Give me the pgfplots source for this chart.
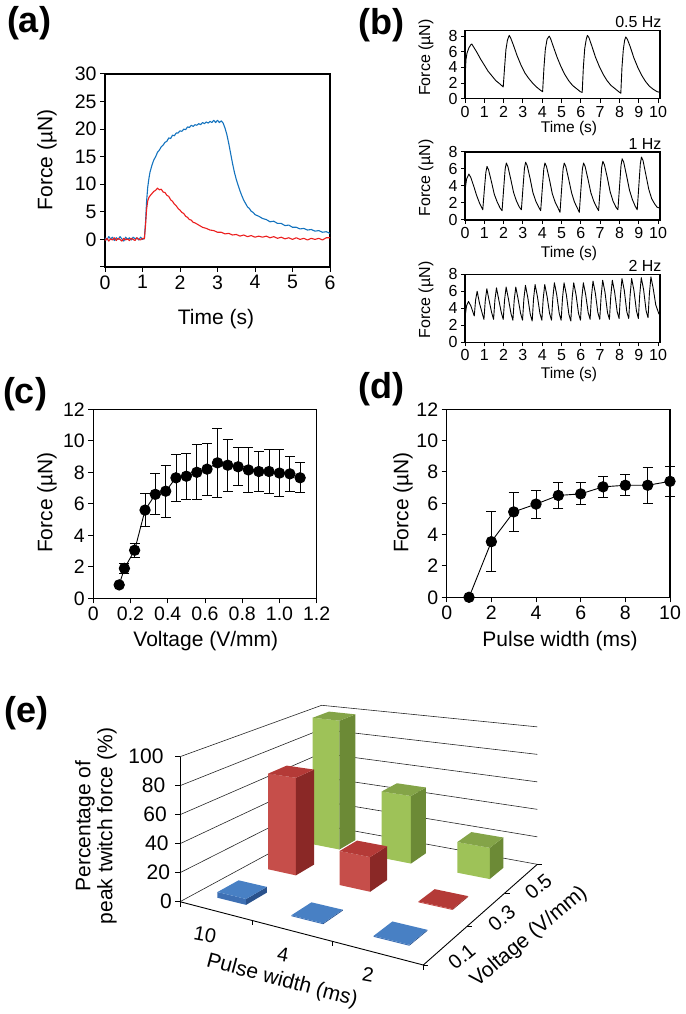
\documentclass[border=0pt]{standalone}
\usepackage{fontspec}
\setmainfont{Liberation Sans}
\usepackage{pgfplots}
\pgfplotsset{compat=1.18}
\usepackage{pgfplotstable}

\definecolor{cblue}{RGB}{20,115,190}
\definecolor{cred}{RGB}{235,30,30}
\definecolor{gF}{RGB}{158,194,88}
\definecolor{gS}{RGB}{108,138,54}
\definecolor{gT}{RGB}{132,164,72}
\definecolor{rF}{RGB}{198,78,74}
\definecolor{rS}{RGB}{138,40,38}
\definecolor{rT}{RGB}{180,58,55}
\definecolor{bF}{RGB}{62,112,180}
\definecolor{bS}{RGB}{42,82,140}
\definecolor{bT}{RGB}{72,128,196}

\newcommand\fs[1]{\fontsize{#1}{#1}\selectfont}

\pgfplotsset{
 panel/.style={scale only axis, anchor=south west, clip=false,
   axis line style={line width=1.3pt}, tick pos=left, tick align=outside,
   major tick length=5pt, every tick/.style={black,line width=1pt},
   /pgf/number format/assume math mode=true,
   tick label style={font=\fs{19.5}}},
 trace/.style={black, line width=0.9pt, mark=none, line join=round},
 gridl/.style={black!85, line width=0.6pt},
 axl/.style={black, line width=0.9pt},
 ebar/.style={black, line width=0.9pt, mark=*, mark size=5.2pt,
  error bars/.cd, y dir=both, y explicit,
  error bar style={line width=0.9pt},
  error mark options={black, rotate=90, mark size=5pt, line width=0.9pt}},
}

% data for (c) and (d)
\pgfplotstableread{
x y e
0.139 0.85 0.1
0.167 1.9 0.3
0.222 3.05 0.45
0.278 5.6 1.05
0.333 6.6 1.3
0.389 6.8 1.65
0.444 7.65 1.5
0.5 7.75 1.45
0.556 8.0 1.75
0.611 8.2 1.65
0.667 8.6 2.2
0.722 8.45 1.65
0.778 8.35 1.2
0.833 8.15 1.4
0.889 8.05 1.27
0.944 8.05 1.4
1.0 7.95 1.5
1.056 7.9 1.12
1.111 7.65 0.95
}\tabC
\pgfplotstableread{
x y e
1 0 0
2 3.55 1.9
3 5.45 1.25
4 5.95 0.9
5 6.5 0.8
6 6.6 0.7
7 7.05 0.65
8 7.15 0.68
9 7.15 1.13
10 7.4 0.95
}\tabD

% 3D helpers for (e)
\newcommand\drawbar[6]{%
 \pgfmathsetmacro\ua{#1-0.0667}\pgfmathsetmacro\ub{#1+0.0667}%
 \pgfmathsetmacro\va{#2-0.0667}\pgfmathsetmacro\vb{#2+0.0667}%
 \pgfmathsetmacro\Ax{prx(\ua,\va)}\pgfmathsetmacro\Ay{pry(\ua,\va,0)}\pgfmathsetmacro\Aty{pry(\ua,\va,#3)}%
 \pgfmathsetmacro\Bx{prx(\ub,\va)}\pgfmathsetmacro\By{pry(\ub,\va,0)}\pgfmathsetmacro\Bty{pry(\ub,\va,#3)}%
 \pgfmathsetmacro\Cx{prx(\ub,\vb)}\pgfmathsetmacro\Cy{pry(\ub,\vb,0)}\pgfmathsetmacro\Cty{pry(\ub,\vb,#3)}%
 \pgfmathsetmacro\Dx{prx(\ua,\vb)}\pgfmathsetmacro\Dty{pry(\ua,\vb,#3)}%
 \edef\temp{%
  \noexpand\addplot[fill=#4,draw=none] coordinates {(\Ax,\Ay) (\Bx,\By) (\Bx,\Bty) (\Ax,\Aty)};
  \noexpand\addplot[fill=#5,draw=none] coordinates {(\Bx,\By) (\Cx,\Cy) (\Cx,\Cty) (\Bx,\Bty)};
  \noexpand\addplot[fill=#6,draw=none] coordinates {(\Ax,\Aty) (\Bx,\Bty) (\Cx,\Cty) (\Dx,\Dty)};
 }\temp}
\newcommand\wall[1]{%
 \pgfmathsetmacro\wxa{prx(0,0)}\pgfmathsetmacro\wya{pry(0,0,#1)}%
 \pgfmathsetmacro\wxb{prx(0,1)}\pgfmathsetmacro\wyb{pry(0,1,#1)}%
 \pgfmathsetmacro\wxc{prx(1,1)}\pgfmathsetmacro\wyc{pry(1,1,#1)}%
 \pgfmathsetmacro\wxt{\wxa-5}%
 \edef\temp{\noexpand\addplot[gridl] coordinates {(\wxa,\wya) (\wxb,\wyb) (\wxc,\wyc)};
  \noexpand\addplot[axl] coordinates {(\wxt,\wya) (\wxa,\wya)};}\temp}
\newcommand\seg[7]{%
 \pgfmathsetmacro\sxa{prx(#1,#2)}\pgfmathsetmacro\sya{pry(#1,#2,#3)}%
 \pgfmathsetmacro\sxb{prx(#4,#5)}\pgfmathsetmacro\syb{pry(#4,#5,#6)}%
 \edef\temp{\noexpand\addplot[#7] coordinates {(\sxa,\sya) (\sxb,\syb)};}\temp}
\newcommand\tickat[4]{%
 \pgfmathsetmacro\sxa{prx(#1,#2)}\pgfmathsetmacro\sya{pry(#1,#2,0)}%
 \pgfmathsetmacro\sxb{\sxa+#3}\pgfmathsetmacro\syb{\sya+#4}%
 \edef\temp{\noexpand\addplot[axl] coordinates {(\sxa,\sya) (\sxb,\syb)};}\temp}

\begin{document}
\begin{tikzpicture}[x=1pt,y=1pt,
 declare function={
  hd(\PU,\PV)=1-0.156*(\PU)+0.211*(\PV);
  prx(\PU,\PV)=(177.27*(\PU)+209.58*(\PV)+180)/hd(\PU,\PV);
  pry(\PU,\PV,\PW)=(-87.24*(\PU)+97.38*(\PV)+901.7-1.45*(\PW))/hd(\PU,\PV);
 }]
\useasboundingbox (0pt,0pt) rectangle (685pt,1014pt);

% ---------------- (e) ----------------
\begin{axis}[at={(0pt,0pt)}, anchor=south west, scale only axis, width=685pt, height=1014pt,
  xmin=0,xmax=685,ymin=0,ymax=1014, y dir=reverse, hide axis, clip=false]
 \foreach \z in {0,20,...,100}{\wall{\z}}
 \seg{0}{0}{0}{0}{0}{100}{axl}
 \seg{0}{0}{0}{1}{0}{0}{axl}
 \seg{1}{0}{0}{1}{1}{0}{axl}
 \foreach \t in {0,0.3333,0.6667,1}{\tickat{\t}{0}{0}{5}\tickat{1}{\t}{5}{0}}
 % back row: 0.5 V/mm
 \drawbar{0.16667}{0.83333}{100}{gF}{gS}{gT}
 \drawbar{0.5}{0.83333}{50}{gF}{gS}{gT}
 \drawbar{0.83333}{0.83333}{22}{gF}{gS}{gT}
 % middle row: 0.3 V/mm
 \drawbar{0.16667}{0.5}{71}{rF}{rS}{rT}
 \drawbar{0.5}{0.5}{24}{rF}{rS}{rT}
 \drawbar{0.83333}{0.5}{0.6}{rF}{rS}{rT}
 % front row: 0.1 V/mm
 \drawbar{0.16667}{0.16667}{4}{bF}{bS}{bT}
 \drawbar{0.5}{0.16667}{0.6}{bF}{bS}{bT}
 \drawbar{0.83333}{0.16667}{0.6}{bF}{bS}{bT}
\end{axis}

% ---------------- (a) ----------------
\begin{axis}[panel, at={(105pt,747pt)}, width=225pt, height=193pt,
  xmin=0,xmax=6,ymin=-5,ymax=30, xtick={0,...,6}, ytick={-5,0,5,...,30},
  yticklabels={{},0,5,10,15,20,25,30}]
\addplot[cblue, line width=1.1pt, line join=round] coordinates {
(0,0.3) (0.05,-0.1) (0.1,0.5) (0.15,0.1) (0.2,0.4) (0.25,-0.2) (0.3,0.3) (0.35,0.0) (0.4,0.5) (0.45,0.1) (0.5,-0.3) (0.55,0.4) (0.6,0.0) (0.65,0.3) (0.7,-0.1) (0.75,0.4) (0.8,0.1) (0.85,0.3) (0.9,-0.1) (0.95,0.4) (1.0,0.0) (1.05,0.2)
(1.08,3) (1.11,7) (1.14,9.5) (1.17,11) (1.2,12.2) (1.25,13.4) (1.3,14.4) (1.35,15.0) (1.4,15.8) (1.45,16.2) (1.5,16.8) (1.55,17.1) (1.6,17.6) (1.65,17.8) (1.7,18.4) (1.75,18.3) (1.8,18.9) (1.85,18.8) (1.9,19.3) (1.95,19.3) (2.0,19.7) (2.05,19.6) (2.1,20.0) (2.15,19.9) (2.2,20.4) (2.25,20.3) (2.3,20.7) (2.35,20.5) (2.4,20.8) (2.45,20.7) (2.5,21.0) (2.55,20.8) (2.6,21.2) (2.65,21.0) (2.7,21.3) (2.75,21.1) (2.8,21.4) (2.85,21.2) (2.9,21.6) (2.95,21.2) (3.0,21.6) (3.05,21.2) (3.1,21.5) (3.15,21.1)
(3.2,20.2) (3.25,19.0) (3.3,17.4) (3.35,15.6) (3.4,13.8) (3.45,12.2) (3.5,10.9) (3.55,9.8) (3.6,8.8) (3.65,7.9) (3.7,7.1) (3.75,6.5) (3.8,5.9) (3.85,5.6) (3.9,5.1) (3.95,4.9) (4.0,4.5) (4.1,4.2) (4.2,3.8) (4.3,3.6) (4.4,3.2) (4.5,3.3) (4.6,2.9) (4.7,2.9) (4.8,2.5) (4.9,2.6) (5.0,2.2) (5.1,2.2) (5.2,1.9) (5.3,2.0) (5.4,1.7) (5.5,1.8) (5.6,1.5) (5.7,1.6) (5.8,1.3) (5.9,1.4) (6.0,1.1)};
\addplot[cred, line width=1.1pt, line join=round] coordinates {
(0,-0.2) (0.05,0.2) (0.1,-0.3) (0.15,0.1) (0.2,-0.1) (0.25,0.3) (0.3,-0.2) (0.35,0.2) (0.4,0.0) (0.45,-0.3) (0.5,0.2) (0.55,-0.1) (0.6,0.1) (0.65,-0.2) (0.7,0.2) (0.75,0.0) (0.8,-0.2) (0.85,0.3) (0.9,0.0) (0.95,-0.1) (1.0,0.2) (1.05,0.1)
(1.08,2.5) (1.11,5.5) (1.14,7.0) (1.17,7.6) (1.2,7.9) (1.25,8.3) (1.3,8.7) (1.35,8.9) (1.4,9.3) (1.45,9.0) (1.5,9.1) (1.55,8.6) (1.6,8.5) (1.65,8.0) (1.7,7.8) (1.75,7.2) (1.8,6.9) (1.85,6.4) (1.9,6.1) (1.95,5.6) (2.0,5.3) (2.05,4.9) (2.1,4.7) (2.15,4.2) (2.2,4.0) (2.25,3.6) (2.3,3.5) (2.35,3.1) (2.4,3.0) (2.5,2.6) (2.6,2.2) (2.7,2.0) (2.8,1.7) (2.9,1.6) (3.0,1.3) (3.1,1.3) (3.2,1.0) (3.3,1.1) (3.4,0.8) (3.5,0.9) (3.6,0.6) (3.7,0.8) (3.8,0.5) (3.9,0.7) (4.0,0.4) (4.1,0.6) (4.2,0.4) (4.3,0.6) (4.4,0.3) (4.5,0.5) (4.6,0.2) (4.7,0.4) (4.8,0.1) (4.9,0.3) (5.0,0.0) (5.1,0.3) (5.2,0.0) (5.3,0.2) (5.4,-0.1) (5.5,0.2) (5.6,0.0) (5.7,0.2) (5.8,-0.1) (5.9,0.3) (6.0,0.3)};
\end{axis}

% ---------------- (b) 0.5 Hz ----------------
\begin{axis}[panel, at={(465pt,915.3pt)}, width=195pt, height=68pt,
  xmin=0,xmax=10.1,ymin=0,ymax=8.7, xtick={0,...,10}, ytick={0,2,...,8},
  major tick length=4pt, axis line style={line width=1.1pt},
  tick label style={font=\fs{16}}]
\addplot[trace] coordinates {
(0,0) (0.02,3.5) (0.05,5.0) (0.1,5.8) (0.2,6.5) (0.3,6.9) (0.35,7.0) (0.45,6.6) (0.6,6.0) (0.8,5.1) (1.0,4.3) (1.2,3.5) (1.4,2.9) (1.6,2.3) (1.8,1.9) (1.98,1.5)
(2.05,4.0) (2.12,6.3) (2.2,7.5) (2.29,8.1) (2.36,7.8) (2.5,6.9) (2.7,5.5) (2.9,4.3) (3.1,3.3) (3.3,2.6) (3.5,2.0) (3.7,1.5) (3.9,1.1) (4.02,0.9)
(4.09,4.0) (4.16,6.3) (4.25,7.6) (4.36,8.0) (4.43,7.7) (4.57,6.7) (4.77,5.3) (4.97,4.1) (5.17,3.1) (5.37,2.3) (5.57,1.7) (5.77,1.3) (5.97,0.9) (6.07,0.8)
(6.13,4.0) (6.2,6.4) (6.28,7.6) (6.34,8.1) (6.42,7.8) (6.56,6.8) (6.76,5.3) (6.96,4.1) (7.16,3.1) (7.36,2.3) (7.56,1.7) (7.76,1.3) (7.96,0.9) (8.07,0.7)
(8.13,4.0) (8.2,6.3) (8.27,7.5) (8.33,7.9) (8.41,7.6) (8.55,6.7) (8.75,5.2) (8.95,4.0) (9.15,3.0) (9.35,2.2) (9.55,1.6) (9.75,1.2) (9.95,0.9) (10.1,0.8)};
\end{axis}

% ---------------- (b) 1 Hz ----------------
\begin{axis}[panel, at={(465pt,794pt)}, width=195pt, height=68pt,
  xmin=0,xmax=10.1,ymin=0,ymax=8, xtick={0,...,10}, ytick={0,2,...,8},
  major tick length=4pt, axis line style={line width=1.1pt},
  tick label style={font=\fs{16}}]
\addplot[trace] coordinates {
(0,0) (0.02,3.8) (0.08,4.8) (0.2,5.4) (0.3,5.0) (0.45,4.0) (0.6,2.9) (0.75,2.0) (0.92,1.2)
(1.0,3.5) (1.08,5.6) (1.14,6.3) (1.22,5.9) (1.37,4.5) (1.52,3.0) (1.67,2.1) (1.82,1.4)
(1.92,1.1) (2.0,3.6) (2.08,6.0) (2.14,6.7) (2.22,6.3) (2.37,4.8) (2.52,3.2) (2.67,2.2) (2.82,1.5)
(2.92,1.2) (3.0,3.7) (3.08,6.1) (3.14,6.8) (3.22,6.4) (3.37,4.9) (3.52,3.2) (3.67,2.2) (3.82,1.5)
(3.92,1.1) (4.0,3.6) (4.08,6.0) (4.14,6.7) (4.22,6.3) (4.37,4.8) (4.52,3.1) (4.67,2.1) (4.82,1.4)
(4.92,0.9) (5.0,3.5) (5.08,6.0) (5.14,6.7) (5.22,6.3) (5.37,4.8) (5.52,3.2) (5.67,2.1) (5.82,1.4)
(5.92,0.9) (6.0,3.5) (6.08,6.0) (6.14,6.7) (6.22,6.3) (6.37,4.8) (6.52,3.2) (6.67,2.2) (6.82,1.5)
(6.92,1.1) (7.0,3.7) (7.08,6.2) (7.14,6.9) (7.22,6.5) (7.37,5.0) (7.52,3.3) (7.67,2.2) (7.82,1.5)
(7.92,1.2) (8.0,3.8) (8.08,6.4) (8.14,7.2) (8.22,6.8) (8.37,5.2) (8.52,3.5) (8.67,2.4) (8.82,1.6)
(8.92,1.2) (9.0,3.9) (9.08,6.6) (9.14,7.4) (9.22,7.0) (9.37,5.3) (9.52,3.6) (9.67,2.5) (9.82,1.9) (9.95,1.5) (10.1,1.4)};
\end{axis}

% ---------------- (b) 2 Hz ----------------
\begin{axis}[panel, at={(465pt,671.7pt)}, width=195pt, height=68pt,
  xmin=0,xmax=10.1,ymin=0,ymax=8, xtick={0,...,10}, ytick={0,2,...,8},
  major tick length=4pt, axis line style={line width=1.1pt},
  tick label style={font=\fs{16}}]
\addplot[trace] coordinates {
(0,0) (0.02,3.3) (0.08,4.3) (0.18,4.8) (0.3,4.3) (0.42,3.5)
(0.48,3.1) (0.55,5.0) (0.63,6.0) (0.75,4.6) (0.88,3.5)
(0.98,2.7) (1.05,4.9) (1.13,6.3) (1.25,4.9) (1.38,3.5)
(1.48,2.7) (1.55,5.0) (1.63,6.4) (1.75,5.0) (1.88,3.5)
(1.98,2.7) (2.05,5.0) (2.13,6.5) (2.25,5.1) (2.38,3.4)
(2.48,2.6) (2.55,5.0) (2.63,6.5) (2.75,5.1) (2.88,3.4)
(2.98,2.6) (3.05,5.1) (3.13,6.7) (3.25,5.3) (3.38,3.3)
(3.48,2.5) (3.55,5.1) (3.63,6.8) (3.75,5.4) (3.88,3.4)
(3.98,2.6) (4.05,5.1) (4.13,6.8) (4.25,5.4) (4.38,3.4)
(4.48,2.6) (4.55,5.2) (4.63,7.0) (4.75,5.6) (4.88,3.4)
(4.98,2.6) (5.05,5.2) (5.13,7.0) (5.25,5.6) (5.38,3.3)
(5.48,2.5) (5.55,5.2) (5.63,7.0) (5.75,5.6) (5.88,3.4)
(5.98,2.6) (6.05,5.2) (6.13,7.0) (6.25,5.6) (6.38,3.5)
(6.48,2.7) (6.55,5.4) (6.63,7.2) (6.75,5.8) (6.88,3.5)
(6.98,2.7) (7.05,5.4) (7.13,7.3) (7.25,5.9) (7.38,3.5)
(7.48,2.7) (7.55,5.4) (7.63,7.3) (7.75,5.9) (7.88,3.6)
(7.98,2.8) (8.05,5.5) (8.13,7.5) (8.25,6.1) (8.38,3.6)
(8.48,2.8) (8.55,5.5) (8.63,7.5) (8.75,6.1) (8.88,3.7)
(8.98,2.8) (9.05,5.6) (9.13,7.6) (9.25,6.2) (9.38,3.7)
(9.48,2.9) (9.55,5.7) (9.63,7.7) (9.75,6.3) (9.88,4.4) (10.05,3.3)};
\end{axis}

% ---------------- (c) ----------------
\begin{axis}[panel, at={(93.3pt,415.7pt)}, width=223.4pt, height=189pt,
  xmin=0,xmax=1.2,ymin=0,ymax=12, xtick={0,0.2,...,1.2},
  xticklabels={0,0.2,0.4,0.6,0.8,1.0,1.2}, ytick={0,2,...,12}]
\addplot[ebar] table[x=x, y=y, y error=e] {\tabC};
\end{axis}

% ---------------- (d) ----------------
\begin{axis}[panel, at={(446.7pt,416.7pt)}, width=223.3pt, height=188pt,
  xmin=0,xmax=10,ymin=0,ymax=12, xtick={0,2,...,10}, ytick={0,2,...,12}]
\addplot[ebar] table[x=x, y=y, y error=e] {\tabD};
\end{axis}

% ---------------- text ----------------
\newcommand\lbl[4][]{\node[inner sep=0pt,#1] at (#2pt,1014pt-#3pt) {#4};}
% panel letters
\lbl[font=\fs{36}\bfseries]{29}{23.5}{(a)}
\lbl[font=\fs{36}\bfseries]{381.7}{25}{(b)}
\lbl[font=\fs{36}\bfseries]{25}{394}{(c)}
\lbl[font=\fs{36}\bfseries]{381.5}{389.5}{(d)}
\lbl[font=\fs{36}\bfseries]{26.5}{713}{(e)}
% (a)
\lbl[font=\fs{21},rotate=90]{47}{160}{Force (µN)}
\lbl[font=\fs{21}]{216}{319}{Time (s)}
% (b)
\lbl[font=\fs{16},rotate=90]{426}{57.5}{Force (µN)}
\lbl[font=\fs{16},rotate=90]{426}{178}{Force (µN)}
\lbl[font=\fs{16},rotate=90]{426}{300}{Force (µN)}
\lbl[font=\fs{15.5}]{569}{128.3}{Time (s)}
\lbl[font=\fs{15.5}]{569}{253.3}{Time (s)}
\lbl[font=\fs{15.5}]{569}{374}{Time (s)}
\lbl[font=\fs{16},anchor=east]{661.7}{22.5}{0.5 Hz}
\lbl[font=\fs{16},anchor=east]{661.7}{144}{1 Hz}
\lbl[font=\fs{16},anchor=east]{661.7}{266}{2 Hz}
% (c), (d)
\lbl[font=\fs{21},rotate=90]{47}{502.5}{Force (µN)}
\lbl[font=\fs{21}]{205.8}{641}{Voltage (V/mm)}
\lbl[font=\fs{21},rotate=90]{403}{502.5}{Force (µN)}
\lbl[font=\fs{21}]{560}{641}{Pulse width (ms)}
% (e)
\lbl[font=\fs{21},anchor=east]{172}{901.7}{0}
\lbl[font=\fs{21},anchor=east]{170.3}{872.7}{20}
\lbl[font=\fs{21},anchor=east]{168.7}{843.7}{40}
\lbl[font=\fs{21},anchor=east]{167}{814.7}{60}
\lbl[font=\fs{21},anchor=east]{165.4}{785.7}{80}
\lbl[font=\fs{21},anchor=east]{163.7}{756.7}{100}
\node[inner sep=0pt, font=\fontsize{21}{22}\selectfont, rotate=90, align=center] at (96pt,188pt) {Percentage of\\peak twitch force (\%)};
\lbl[font=\fs{20},rotate=-10]{205}{935}{10}
\lbl[font=\fs{20},rotate=-10]{283}{955}{4}
\lbl[font=\fs{20},rotate=-10]{368}{975}{2}
\lbl[font=\fs{21},rotate=-15]{282}{981}{Pulse width (ms)}
\lbl[font=\fs{20},rotate=40]{461.7}{956.7}{0.1}
\lbl[font=\fs{20},rotate=40]{501.7}{918.3}{0.3}
\lbl[font=\fs{20},rotate=40]{538.3}{886.7}{0.5}
\lbl[font=\fs{21},rotate=40]{529}{937}{Voltage (V/mm)}
\end{tikzpicture}
\end{document}
